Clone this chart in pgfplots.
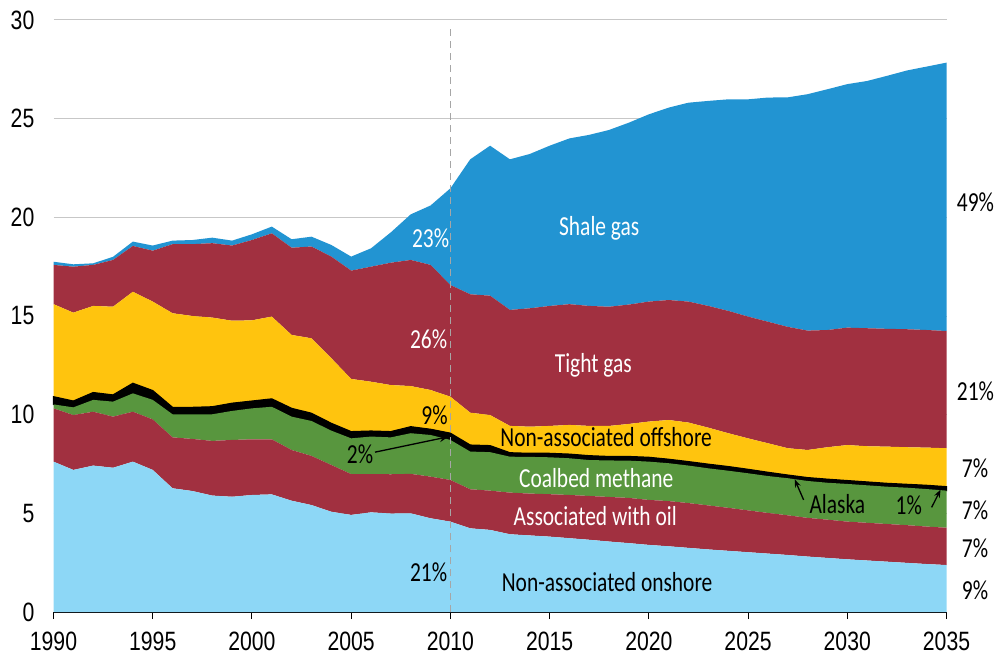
\documentclass[border=0pt]{standalone}
\usepackage{fontspec}
\usepackage{pgfplots}
\usepackage{pgfplotstable}
\pgfplotsset{compat=1.18}
\usetikzlibrary{arrows.meta}

\newfontfamily\labfont{Carlito}[FakeStretch=0.78]
\newfontfamily\tickfont{Liberation Sans}[FakeStretch=0.8]

\definecolor{onshore}{RGB}{141,215,246}
\definecolor{wine}{RGB}{161,48,64}
\definecolor{cbm}{RGB}{88,150,62}
\definecolor{offsh}{RGB}{255,196,14}
\definecolor{shale}{RGB}{34,148,210}

% US gas production by source, tcf
\pgfplotstableread{
year onshore assoc cbm alaska offshore tight shale
1990 7.62 2.70 0.20 0.39 4.69 1.99 0.16
1991 7.20 2.78 0.39 0.32 4.48 2.33 0.12
1992 7.42 2.73 0.60 0.37 4.39 2.08 0.08
1993 7.31 2.59 0.76 0.34 4.47 2.37 0.16
1994 7.62 2.53 0.93 0.51 4.64 2.32 0.22
1995 7.20 2.56 0.99 0.47 4.51 2.58 0.26
1996 6.27 2.58 1.17 0.35 4.77 3.50 0.18
1997 6.13 2.64 1.25 0.35 4.63 3.64 0.21
1998 5.90 2.77 1.35 0.38 4.52 3.77 0.28
1999 5.84 2.88 1.47 0.39 4.18 3.81 0.25
2000 5.93 2.82 1.57 0.37 4.09 4.07 0.29
2001 5.96 2.79 1.65 0.40 4.17 4.22 0.34
2002 5.64 2.57 1.69 0.42 3.72 4.42 0.43
2003 5.42 2.49 1.77 0.39 3.80 4.65 0.50
2004 5.08 2.37 1.74 0.37 3.30 5.15 0.59
2005 4.92 2.07 1.81 0.34 2.67 5.49 0.71
2006 5.05 1.94 1.90 0.28 2.50 5.83 0.93
2007 4.99 1.99 1.87 0.29 2.36 6.20 1.54
2008 5.00 2.00 2.06 0.33 2.06 6.39 2.31
2009 4.75 2.11 2.11 0.29 1.99 6.34 3.01
2010 4.58 2.11 2.03 0.34 1.85 5.66 4.90
2011 4.24 1.98 1.91 0.33 1.64 6.00 6.84
2012 4.16 1.99 1.95 0.33 1.55 6.05 7.60
2013 3.94 2.11 1.82 0.20 1.36 5.88 7.63
2014 3.88 2.12 1.86 0.18 1.35 6.00 7.82
2015 3.82 2.15 1.87 0.20 1.39 6.08 8.12
2016 3.74 2.19 1.86 0.21 1.48 6.12 8.40
2017 3.66 2.22 1.82 0.22 1.51 6.08 8.67
2018 3.57 2.26 1.85 0.20 1.55 6.04 8.96
2019 3.49 2.29 1.89 0.21 1.65 6.05 9.22
2020 3.40 2.28 1.94 0.22 1.81 6.08 9.49
2021 3.33 2.29 1.92 0.20 1.99 6.08 9.75
2022 3.25 2.27 1.90 0.20 1.98 6.13 10.08
2023 3.17 2.23 1.88 0.21 1.85 6.17 10.39
2024 3.10 2.18 1.88 0.21 1.69 6.20 10.72
2025 3.03 2.12 1.88 0.20 1.57 6.17 11.01
2026 2.96 2.06 1.87 0.19 1.47 6.16 11.36
2027 2.89 2.01 1.88 0.16 1.36 6.15 11.63
2028 2.81 1.96 1.87 0.17 1.40 6.05 11.98
2029 2.74 1.94 1.87 0.18 1.62 5.94 12.20
2030 2.67 1.91 1.91 0.17 1.80 5.95 12.34
2031 2.61 1.91 1.90 0.17 1.81 5.98 12.53
2032 2.55 1.91 1.89 0.17 1.86 5.97 12.82
2033 2.49 1.91 1.90 0.17 1.88 5.98 13.11
2034 2.43 1.90 1.90 0.19 1.91 5.96 13.35
2035 2.38 1.89 1.88 0.20 1.95 5.94 13.60
}\gasdata

\tikzset{
  lbl/.style={font=\labfont\fontsize{27.5}{27.5}\selectfont},
  arr/.style={line width=1.3pt},
}

\begin{document}
\begin{tikzpicture}
\begin{axis}[
  name=ax,
  scale only axis,
  width=893pt, height=592pt,
  xmin=1990, xmax=2035,
  ymin=0, ymax=30,
  xtick={1990,1995,...,2035},
  ytick={0,5,...,30},
  axis lines*=left,
  y axis line style={draw=none},
  x axis line style={black, line width=1pt},
  tick align=outside,
  major tick length=7pt,
  xtick style={black, line width=1pt},
  ytick style={draw=none},
  ymajorgrids,
  grid style={black!22, line width=1pt},
  /pgf/number format/1000 sep={},
  /pgf/number format/assume math mode=true,
  xticklabel style={font=\tickfont\fontsize{26.5}{26.5}\selectfont, inner sep=0pt, yshift=-13pt},
  yticklabel style={font=\tickfont\fontsize{26.5}{26.5}\selectfont, inner sep=0pt, xshift=-12pt},
  stack plots=y,
  clip=false,
]
\addplot[fill=onshore, draw=none] table[x=year, y=onshore] {\gasdata} \closedcycle;
\addplot[fill=wine, draw=none] table[x=year, y=assoc] {\gasdata} \closedcycle;
\addplot[fill=cbm, draw=none] table[x=year, y=cbm] {\gasdata} \closedcycle;
\addplot[fill=black, draw=black, line width=1.2pt] table[x=year, y=alaska] {\gasdata} \closedcycle;
\addplot[fill=offsh, draw=none] table[x=year, y=offshore] {\gasdata} \closedcycle;
\addplot[fill=wine, draw=none] table[x=year, y=tight] {\gasdata} \closedcycle;
\addplot[fill=shale, draw=none] table[x=year, y=shale] {\gasdata} \closedcycle;

% anchor points for the annotations, drawn after the axis so they sit on top
\coordinate (d0) at (axis cs:2010,0);
\coordinate (d1) at (axis cs:2010,29.7);
\coordinate (tShale) at (axis cs:2017.5,19.46);
\coordinate (tTight) at (axis cs:2017.2,12.5);
\coordinate (tOff) at (axis cs:2017.85,8.87);
\coordinate (tCbm) at (axis cs:2017.35,6.78);
\coordinate (tAssoc) at (axis cs:2017.3,4.87);
\coordinate (tOn) at (axis cs:2017.9,1.54);
\coordinate (tAlaska) at (axis cs:2029.5,5.47);
\coordinate (p23) at (axis cs:2009.0,18.96);
\coordinate (p26) at (axis cs:2008.9,13.84);
\coordinate (p9) at (axis cs:2009.2,9.98);
\coordinate (p2) at (axis cs:2005.45,8.0);
\coordinate (p21) at (axis cs:2008.9,2.04);
\coordinate (p1) at (axis cs:2033.1,5.42);
\coordinate (r49) at (axis cs:2035.35,20.78);
\coordinate (r21) at (axis cs:2035.35,11.17);
\coordinate (r7a) at (axis cs:2035.6,7.3);
\coordinate (r7b) at (axis cs:2035.6,5.17);
\coordinate (r7c) at (axis cs:2035.6,3.23);
\coordinate (r9) at (axis cs:2035.6,1.11);
\coordinate (a1s) at (axis cs:2006.2,8.1);
\coordinate (a1e) at (axis cs:2009.9,8.88);
\coordinate (a2s) at (axis cs:2027.8,5.68);
\coordinate (a2e) at (axis cs:2027.35,6.72);
\coordinate (a3s) at (axis cs:2034.25,5.3);
\coordinate (a3e) at (axis cs:2034.7,6.2);
\end{axis}

\draw[black!35, dash pattern=on 7pt off 5pt, line width=1pt] (d0) -- (d1);

\node[lbl, white] at (tShale) {Shale gas};
\node[lbl, white] at (tTight) {Tight gas};
\node[lbl, black] at (tOff) {Non-associated offshore};
\node[lbl, white] at (tCbm) {Coalbed methane};
\node[lbl, white] at (tAssoc) {Associated with oil};
\node[lbl, black] at (tOn) {Non-associated onshore};
\node[lbl, black] at (tAlaska) {Alaska};

\node[lbl, white] at (p23) {23\%};
\node[lbl, white] at (p26) {26\%};
\node[lbl, black] at (p9) {9\%};
\node[lbl, black] at (p2) {2\%};
\node[lbl, black] at (p21) {21\%};
\node[lbl, black] at (p1) {1\%};

\node[lbl, anchor=west] at (r49) {49\%};
\node[lbl, anchor=west] at (r21) {21\%};
\node[lbl, anchor=west] at (r7a) {7\%};
\node[lbl, anchor=west] at (r7b) {7\%};
\node[lbl, anchor=west] at (r7c) {7\%};
\node[lbl, anchor=west] at (r9) {9\%};

\draw[arr, -{Stealth[length=9pt,width=7pt]}] (a1s) -- (a1e);
\draw[arr, -{Stealth[length=8pt,width=6pt]}] (a2s) -- (a2e);
\draw[arr, -{Stealth[length=8pt,width=6pt]}] (a3s) -- (a3e);

\pgfresetboundingbox
\path (ax.south west) ++(-53.5pt,-50pt) coordinate (bbl);
\path (ax.north east) ++(47.5pt,20pt) coordinate (bbr);
\path[use as bounding box] (bbl) rectangle (bbr);
\end{tikzpicture}
\end{document}
